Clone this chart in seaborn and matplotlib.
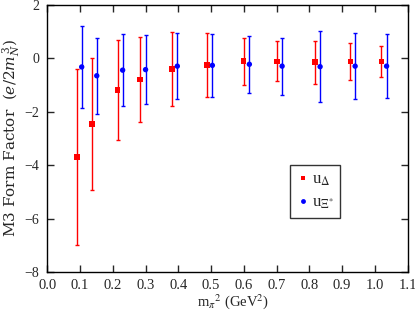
import numpy as np
import pandas as pd
import matplotlib
matplotlib.use("Agg")
import matplotlib.pyplot as plt
import seaborn as sns

# u_Delta (red squares)
x_delta = [0.091, 0.137, 0.215, 0.283, 0.381, 0.488, 0.600, 0.701, 0.818, 0.925, 1.020]
y_delta = [-3.70, -2.46, -1.18, -0.79, -0.40, -0.25, -0.10, -0.11, -0.14, -0.12, -0.12]
e_delta = [3.30, 2.47, 1.88, 1.58, 1.40, 1.19, 0.88, 0.75, 0.81, 0.69, 0.58]

# u_Xi* (blue circles)
x_xi = [0.105, 0.151, 0.230, 0.300, 0.397, 0.504, 0.617, 0.717, 0.833, 0.940, 1.036]
y_xi = [-0.32, -0.65, -0.44, -0.42, -0.29, -0.26, -0.22, -0.29, -0.31, -0.29, -0.29]
e_xi = [1.53, 1.43, 1.35, 1.29, 1.24, 1.19, 1.07, 1.07, 1.32, 1.24, 1.19]

labels = [r"u$_{\Delta}$", r"u$_{\Xi^{*}}$"]

df = pd.DataFrame({
    "x": x_delta + x_xi,
    "y": y_delta + y_xi,
    "err": e_delta + e_xi,
    "series": [labels[0]] * len(x_delta) + [labels[1]] * len(x_xi),
})

sns.set_style("ticks")
plt.rcParams["font.family"] = ["Liberation Serif", "DejaVu Serif"]
plt.rcParams["mathtext.fontset"] = "stix"

fig = plt.figure(figsize=(4.15, 3.14), dpi=100)
ax = fig.add_axes([0.114, 0.134, 0.868, 0.850])

palette = {labels[0]: "#ff0000", labels[1]: "#0000ff"}
markers = {labels[0]: "s", labels[1]: "o"}

for name, grp in df.groupby("series", sort=False):
    ax.errorbar(grp["x"], grp["y"], yerr=grp["err"], fmt="none",
                ecolor=palette[name], elinewidth=1.0, capsize=1.6, capthick=1.0)

sns.scatterplot(data=df, x="x", y="y", hue="series", style="series",
                palette=palette, markers=markers, s=15, edgecolor="none",
                ax=ax, zorder=3)

ax.set_xlim(0.0, 1.1)
ax.set_ylim(-8, 2)
ax.set_xticks(np.arange(0.0, 1.11, 0.1))
ax.set_xticklabels([f"{v:.1f}" for v in np.arange(0.0, 1.11, 0.1)])
ax.set_yticks([-8, -6, -4, -2, 0, 2])
ax.tick_params(direction="in", top=True, right=True, length=5, width=1,
               labelsize=10.5, pad=5)
ax.tick_params(axis="y", pad=6, labelsize=10)
for s in ax.spines.values():
    s.set_linewidth(1.0)
    s.set_color("black")

ax.set_xlabel(r"m$_{\pi}$$^{2}$ (GeV$^{2}$)", fontsize=10.5, labelpad=0)
ax.xaxis.set_label_coords(0.515, -0.075)
ax.set_ylabel(r"M3 Form Factor  $(e/2m_N^{\,3})$", fontsize=11,
              family="DejaVu Serif", math_fontfamily="dejavuserif")
ylab = ax.yaxis.label
ylab.set_rotation_mode("default")
ylab.set_horizontalalignment("left")
ylab.set_verticalalignment("center")
ax.yaxis.set_label_coords(0.5 / 415, 0.559, transform=fig.transFigure)

leg = ax.legend(loc="upper left", bbox_to_anchor=(0.674, 0.40), frameon=True,
                fancybox=False, edgecolor="black", fontsize=12,
                handletextpad=0.2, handlelength=0.7, borderpad=0.4,
                labelspacing=0.4, borderaxespad=0, title=None,
                markerscale=0.9)
leg.get_frame().set_linewidth(1.0)

fig.savefig("out.png", dpi=100)
